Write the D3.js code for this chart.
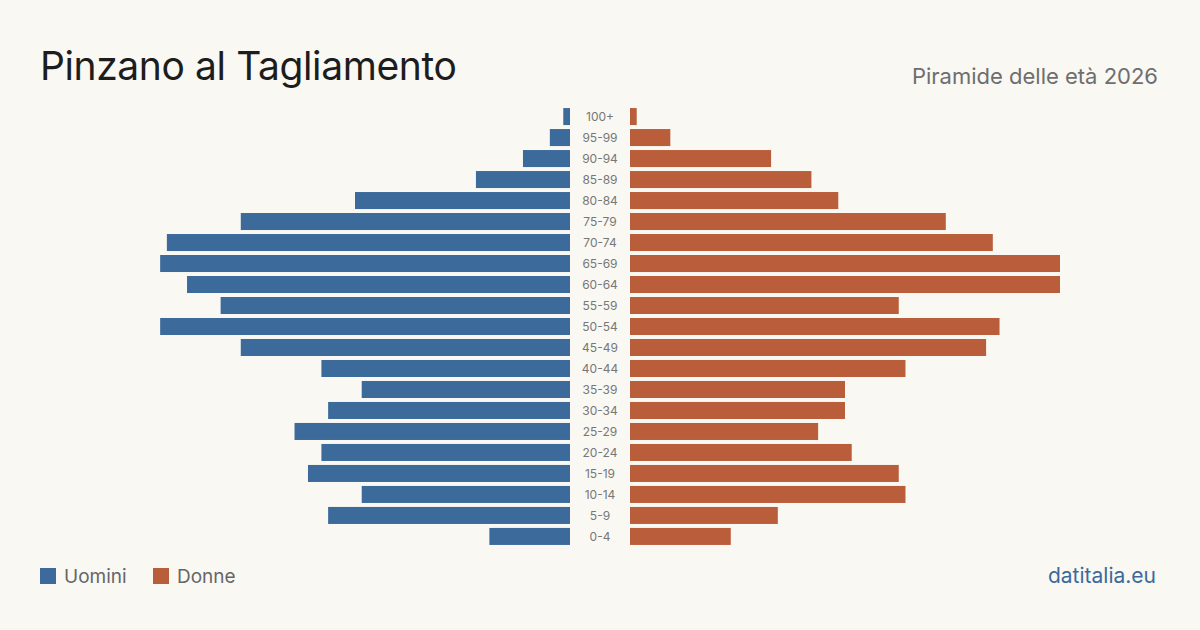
<!DOCTYPE html>
<html>
<head>
<meta charset="utf-8">
<script src="https://cdn.jsdelivr.net/npm/d3@7"></script>
<style>
  html, body { margin: 0; padding: 0; background: #f9f8f3; }
  svg { display: block; font-family: Inter, "Noto Sans", sans-serif; }
</style>
</head>
<body>
<div id="chart"></div>
<script>
// dati della piramide (dall'alto verso il basso)
const ageGroups = ["100+", "95-99", "90-94", "85-89", "80-84", "75-79", "70-74", "65-69", "60-64", "55-59",
  "50-54", "45-49", "40-44", "35-39", "30-34", "25-29", "20-24", "15-19", "10-14", "5-9", "0-4"];
const men   = [1, 3, 7, 14, 32, 49, 60, 61, 57, 52, 61, 49, 37, 31, 36, 41, 37, 39, 31, 36, 12];
const women = [1, 6, 21, 27, 31, 47, 54, 64, 64, 40, 55, 53, 41, 32, 32, 28, 33, 40, 41, 22, 15];

const W = 1200, H = 630;
const svg = d3.select("#chart").append("svg")
  .attr("width", W).attr("height", H);

svg.append("rect").attr("width", W).attr("height", H).attr("fill", "#f9f8f3");

// titoli
svg.append("text").attr("x", 40).attr("y", 80)
  .attr("font-size", 39).attr("letter-spacing", -0.4).attr("fill", "#1d1d1d")
  .text("Pinzano al Tagliamento");
svg.append("text").attr("x", 1158).attr("y", 84)
  .attr("text-anchor", "end").attr("font-size", 22).attr("fill", "#6e6e6e")
  .text("Piramide delle età 2026");

// scale
const maxVal = d3.max(men.concat(women));
const y = d3.scaleBand().domain(ageGroups).range([107, 546]).paddingInner(0.19).paddingOuter(0.05);
const xLeft = d3.scaleLinear().domain([0, maxVal]).range([570, 140]);
const xRight = d3.scaleLinear().domain([0, maxVal]).range([630, 1060]);

svg.append("g").selectAll("rect")
  .data(ageGroups)
  .enter().append("rect")
  .attr("x", (d, i) => xLeft(men[i]))
  .attr("y", d => y(d))
  .attr("width", (d, i) => xLeft(0) - xLeft(men[i]))
  .attr("height", y.bandwidth())
  .attr("fill", "#3b6a9b");

svg.append("g").selectAll("rect")
  .data(ageGroups)
  .enter().append("rect")
  .attr("x", xRight(0))
  .attr("y", d => y(d))
  .attr("width", (d, i) => xRight(women[i]) - xRight(0))
  .attr("height", y.bandwidth())
  .attr("fill", "#b95d3b");

svg.append("g").selectAll("text")
  .data(ageGroups)
  .enter().append("text")
  .attr("x", 600)
  .attr("y", d => y(d) + y.bandwidth() / 2)
  .attr("dy", "0.35em")
  .attr("text-anchor", "middle")
  .attr("font-size", 12)
  .attr("fill", "#777")
  .text(d => d);

// legenda
const legend = [["Uomini", "#3b6a9b", 40], ["Donne", "#b95d3b", 153]];
legend.forEach(l => {
  svg.append("rect").attr("x", l[2]).attr("y", 568).attr("width", 16).attr("height", 16).attr("fill", l[1]);
  svg.append("text").attr("x", l[2] + 24).attr("y", 583)
    .attr("font-size", 19).attr("fill", "#666").text(l[0]);
});

svg.append("text").attr("x", 1156).attr("y", 583)
  .attr("text-anchor", "end").attr("font-size", 21).attr("fill", "#3b6a9b")
  .text("datitalia.eu");
</script>
</body>
</html>
